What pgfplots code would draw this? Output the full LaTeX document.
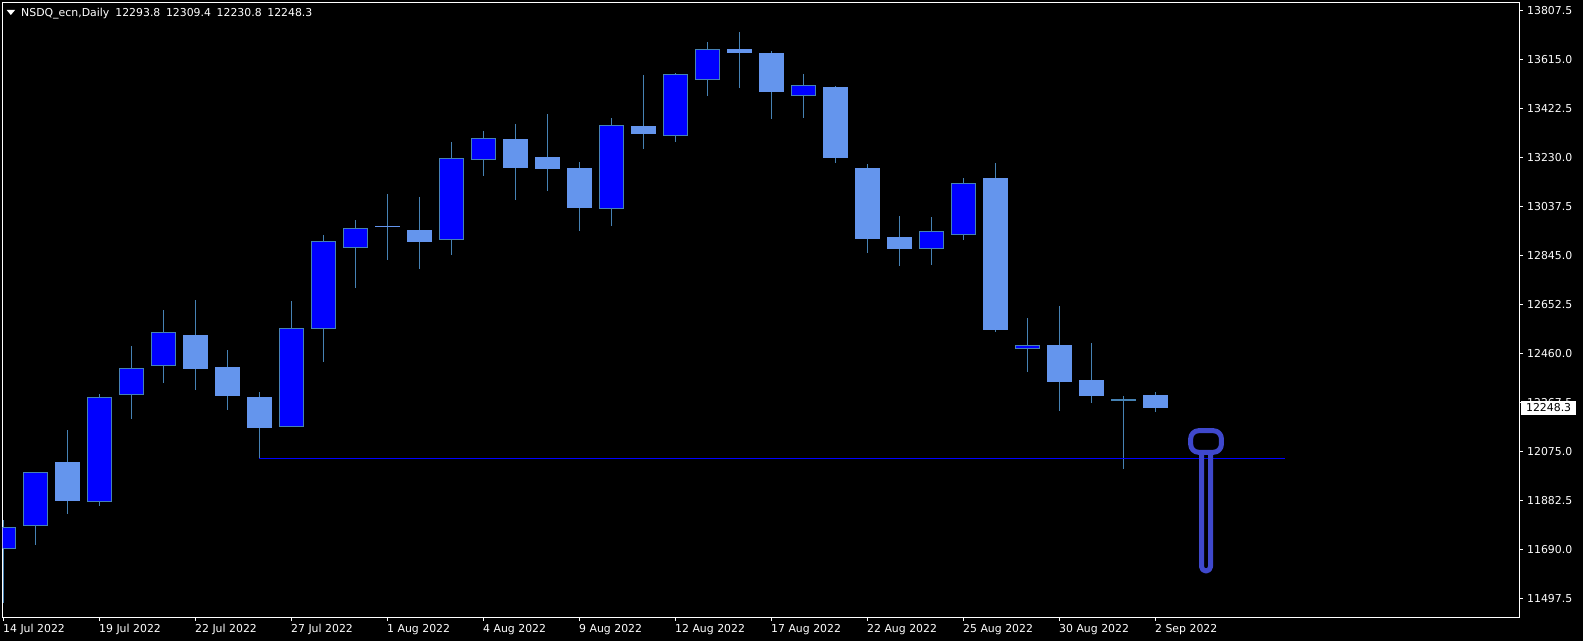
\documentclass[border=0pt]{standalone}
\usepackage{fontspec}
\setmainfont{DejaVu Sans}
\usepackage{pgfplots}
\pgfplotsset{compat=1.18}

\definecolor{bullfill}{HTML}{0000FF}
\definecolor{bearfill}{HTML}{6495ED}
\definecolor{wickline}{HTML}{4682B4}
\definecolor{pinblue}{HTML}{3F48CC}

\pgfplotsset{
  bull/.style={draw=wickline,fill=bullfill,line width=1pt},
  bear/.style={draw=bearfill,fill=bearfill,line width=1pt},
}

% style, index, high, body top, body bottom, low
\newcommand{\candle}[6]{%
  \pgfmathsetmacro{\xa}{#2-0.375}%
  \pgfmathsetmacro{\xb}{#2+0.375}%
  \addplot[wickline,line width=1.1pt,forget plot] coordinates {(#2,#3) (#2,#6)};
  \addplot[#1,forget plot] coordinates {(\xa,#5) (\xb,#5) (\xb,#4) (\xa,#4)} --cycle;
}

\newcommand{\chartfont}{\fontsize{10.9}{12}\selectfont}

\begin{document}
\begin{tikzpicture}
\path[use as bounding box,fill=black] (-2.5pt,-23.5pt) rectangle (1580.5pt,617.5pt);

\begin{axis}[
  at={(0pt,0pt)},anchor=south west,
  width=1517pt,height=615pt,scale only axis,
  xmin=-0.03125,xmax=47.375,
  ymin=11423.6,ymax=13839.7,
  axis line style={white,line width=1pt},
  tick style={white,line width=1pt},
  major tick length=3.5pt,
  tick align=outside,
  xtick pos=bottom,
  ytick pos=right,
  yticklabel pos=right,
  xtick={0,3,...,36},
  xticklabels={14 Jul 2022,19 Jul 2022,22 Jul 2022,27 Jul 2022,1 Aug 2022,4 Aug 2022,9 Aug 2022,12 Aug 2022,17 Aug 2022,22 Aug 2022,25 Aug 2022,30 Aug 2022,2 Sep 2022},
  ytick={11497.5,11690,11882.5,12075,12267.5,12460,12652.5,12845,13037.5,13230,13422.5,13615,13807.5},
  yticklabels={11497.5,11690.0,11882.5,12075.0,12267.5,12460.0,12652.5,12845.0,13037.5,13230.0,13422.5,13615.0,13807.5},
  xticklabel style={font=\chartfont,text=white,anchor=north west,inner sep=0pt,xshift=-0.5pt,yshift=-3pt},
  yticklabel style={font=\chartfont,text=white,anchor=west,inner sep=0pt,xshift=4pt},
  clip mode=individual,
  after end axis/.code={
    \node[fill=white,text=black,font=\chartfont,anchor=west,inner xsep=5pt,inner ysep=0pt,minimum height=14pt]
      at (axis cs:47.42,12248.3) {12248.3};
  },
]
\candle{bull}{0}{11806.6}{11777.9}{11695.5}{11481.8}
\candle{bull}{1}{11994.0}{11994.0}{11784.3}{11708.4}
\candle{bear}{2}{12160.2}{12034.5}{11885.2}{11830.2}
\candle{bull}{3}{12301.6}{12288.7}{11878.5}{11861.6}
\candle{bull}{4}{12490.2}{12402.6}{12298.9}{12203.4}
\candle{bull}{5}{12631.6}{12544.0}{12412.8}{12344.9}
\candle{bear}{6}{12670.9}{12533.4}{12399.9}{12317.4}
\candle{bear}{7}{12474.5}{12407.7}{12297.7}{12238.8}
\candle{bear}{8}{12309.5}{12289.8}{12168.1}{12049.1}
\candle{bull}{9}{12667.0}{12559.8}{12173.2}{12173.2}
\candle{bull}{10}{12926.3}{12901.5}{12558.2}{12427.4}
\candle{bull}{11}{12985.2}{12952.6}{12876.4}{12718.1}
\candle{bear}{12}{13087.4}{12960.5}{12958.9}{12828.1}
\candle{bear}{13}{13075.6}{12945.9}{12898.8}{12792.7}
\candle{bull}{14}{13291.6}{13227.6}{12907.8}{12847.7}
\candle{bull}{15}{13334.9}{13306.2}{13222.1}{13158.1}
\candle{bear}{16}{13362.4}{13303.4}{13193.4}{13063.8}
\candle{bear}{17}{13401.6}{13232.7}{13189.5}{13099.1}
\candle{bear}{18}{13213.1}{13189.5}{13032.4}{12942.0}
\candle{bull}{19}{13385.9}{13357.2}{13029.6}{12961.6}
\candle{bear}{20}{13554.9}{13354.5}{13323.1}{13264.1}
\candle{bull}{21}{13562.7}{13557.6}{13316.4}{13291.6}
\candle{bull}{22}{13684.5}{13655.8}{13536.4}{13472.4}
\candle{bear}{23}{13723.8}{13653.1}{13641.3}{13503.8}
\candle{bear}{24}{13649.1}{13637.4}{13488.1}{13382.0}
\candle{bull}{25}{13558.8}{13514.4}{13473.5}{13385.9}
\candle{bear}{26}{13511.6}{13507.7}{13232.7}{13209.1}
\candle{bear}{27}{13205.2}{13185.6}{12914.5}{12855.6}
\candle{bear}{28}{13000.9}{12918.4}{12871.3}{12804.5}
\candle{bull}{29}{12997.0}{12940.8}{12872.5}{12808.4}
\candle{bull}{30}{13150.2}{13129.4}{12927.5}{12906.6}
\candle{bear}{31}{13209.1}{13146.3}{12553.1}{12545.2}
\candle{bull}{32}{12600.2}{12493.0}{12479.6}{12388.1}
\candle{bear}{33}{12647.4}{12494.1}{12348.8}{12234.9}
\candle{bear}{34}{12502.0}{12356.6}{12293.8}{12266.3}
\candle{bull}{35}{12293.8}{12282.0}{12275.3}{12007.0}
\candle{bear}{36}{12309.4}{12293.8}{12248.3}{12230.8}

% support line
\addplot[bullfill,line width=1pt,forget plot] coordinates {(8,12049.1) (40.05,12049.1)};

% hand drawn pin
\addplot[pinblue,line width=5pt,rounded corners=4.4pt,line join=round,forget plot]
  coordinates {(37.44,12072.6) (37.44,11606.3) (37.72,11606.3) (37.72,12072.6)};
\addplot[pinblue,line width=5pt,rounded corners=8pt,line join=round,forget plot]
  coordinates {(37.10,12072.6) (38.06,12072.6) (38.06,12157.5) (37.10,12157.5)} --cycle;
\end{axis}

% chart header
\fill[white] (4.2pt,607.5pt) -- (12.5pt,607.5pt) -- (8.35pt,602.5pt) -- cycle;
\node[anchor=west,inner sep=0pt,text=white,font=\chartfont] at (18.5pt,603.8pt)
  {\spaceskip=5.6pt NSDQ\_ecn,Daily\hspace{6pt}12293.8 12309.4 12230.8 12248.3};
\end{tikzpicture}
\end{document}
